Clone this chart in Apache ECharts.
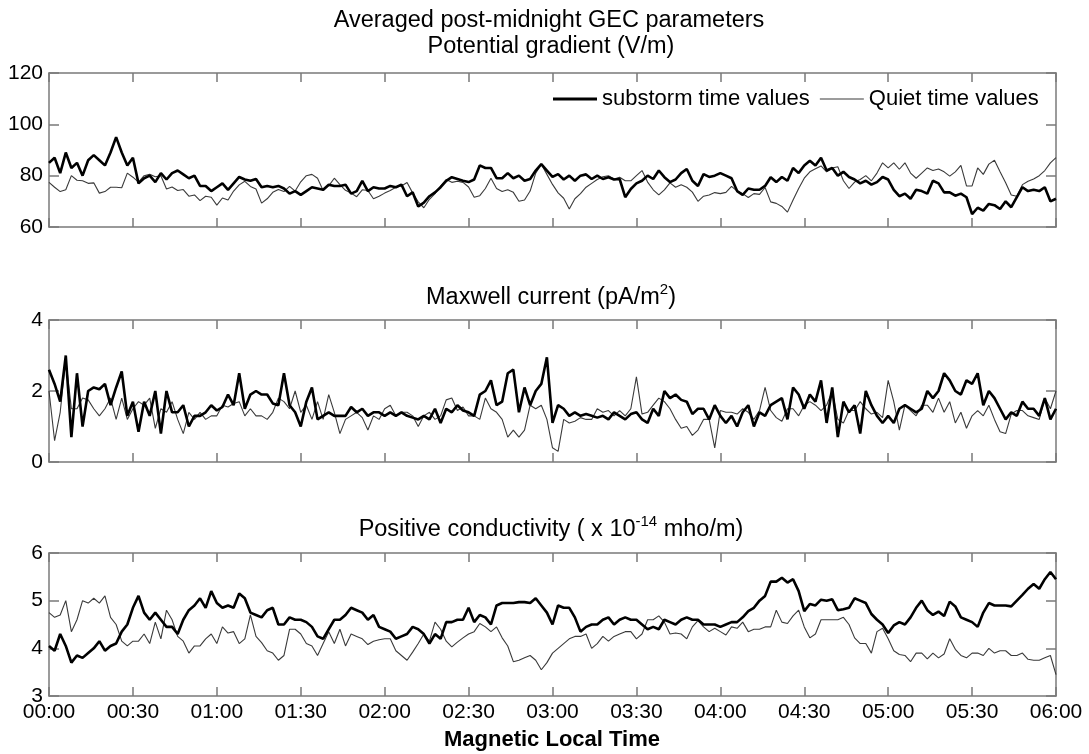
<!DOCTYPE html>
<html><head><meta charset="utf-8">
<script src="https://cdn.jsdelivr.net/npm/echarts@6/dist/echarts.min.js"></script>
<style>html,body{margin:0;padding:0;background:#fff}#c{width:1089px;height:754px}</style>
</head><body><div id="c"></div>
<script>
// x grid: minutes after 00:00 MLT, every 2 minutes
const minutes = Array.from({length: 181}, (_, i) => i * 2);
const timeTicks = ['00:00','00:30','01:00','01:30','02:00','02:30','03:00','03:30','04:00','04:30','05:00','05:30','06:00'];
const seriesNames = ['substorm time values', 'Quiet time values'];

// Potential gradient (V/m)
const pgSubstorm = [
85,87,81,89,83,85,80,86,88,86,
84,89,95,89,84,87,77,79,80,77.5,
81,78.5,81,82,80.5,79,80,76,76,74,
75.5,77,74.5,77,79.5,78.5,78,78.7,75.5,76,
75.5,76,75,73,74,72.5,74,75.5,75,74.5,
76.5,76,76,76.5,73,74,78,74,75.5,75,
75,76,75.5,76.5,72,73.5,68,69.5,72,73.5,
75.5,78,79.4,78.7,78,77.5,78.5,84,83,83,
79,79,81,79,80,78,78.7,82,84.5,82,
79.5,80.6,78.5,80,78,80,80.5,78.7,80,78.7,
79.4,78.5,78.7,71.6,74.8,77,78,80,78.7,82,
79.4,77.5,78.5,81,82.6,78,76,80.6,79.5,80,
81,80,79,74,72.5,75,74.5,74.5,76,79.4,
77.5,79.5,78,83,81,84,85.8,84,87,82,
83,80,81.5,79.5,78.5,77,78,76.5,77.5,79.5,
78.5,74.5,72,73,71,74.5,74,73,78,77,
73.5,73.5,72.2,73,71.6,65,67.5,66.4,69,68.5,
67,70,67.7,71.6,75.5,74,74.5,74,75.5,70,
71];
const pgQuiet = [
77.4,75.5,73.8,74.5,80,78.2,78,77,77.2,73.2,
73.8,75.5,75.5,75.3,81,79.4,77.5,80,80.5,79.6,
80,74.8,75.6,74.2,74.6,72,72.5,70.3,72,71.6,
68.5,71.3,70.5,74,76.4,77.8,75.8,74.8,69.3,71,
73.5,74.6,73.8,75.8,74,77.6,80,80.5,79,74.2,
76,79,76.5,74.3,73.2,71.8,74.5,74.2,71,72,
73.2,74.2,75.5,76,77.3,73.3,69.8,67.5,70.8,73,
75.9,78.5,77.4,77.8,77.4,75.6,71.6,72.2,75,79,
75,73.8,74.5,73.5,70,70.5,74,81,84.5,80.5,
76.6,73.3,71.2,67,71,73,75.5,77,78.5,79.6,
80,78.7,79.4,78,78,80,82,77.5,74.5,72.5,
74.5,77.2,75.5,76.5,75.5,73.6,70,72,72.5,73.4,
73,73.5,75.8,74,73,71.5,73,72.7,75.4,69.8,
69.2,68,65.8,70.5,75,79,81.5,82.7,83.8,81.5,
83,83.5,78,75,77.5,78.5,80,78,81,85,
83,85,82.5,85,81,79,81,83,82,82.6,
81.5,79.8,81.5,84,76,76,83,80.5,84.5,86,
81.5,77.2,72.5,72,76.5,77.8,78.7,80,82,85,
87];

// Maxwell current (pA/m^2)
const mcSubstorm = [
2.6,2.2,1.7,3.0,0.7,2.5,1.0,2.0,2.1,2.05,
2.2,1.6,2.1,2.55,1.3,1.7,0.85,1.7,1.3,2.0,
0.8,2.0,1.4,1.4,1.6,1.0,1.3,1.3,1.4,1.6,
1.45,1.55,1.9,1.6,2.5,1.5,1.9,2.0,1.9,1.9,
1.65,1.6,2.5,1.6,1.4,1.0,1.7,2.1,1.2,1.3,
1.4,1.3,1.3,1.3,1.55,1.4,1.5,1.3,1.4,1.4,
1.3,1.4,1.3,1.4,1.3,1.25,1.2,1.3,1.2,1.5,
1.1,1.5,1.4,1.6,1.45,1.4,1.3,1.9,2.0,2.3,
1.6,1.7,2.5,2.6,1.4,2.1,1.6,2.0,2.2,2.95,
1.1,1.6,1.5,1.3,1.4,1.3,1.35,1.3,1.25,1.3,
1.2,1.4,1.3,1.2,1.35,1.4,1.2,1.1,1.5,1.3,
2.0,1.8,1.9,1.75,1.7,1.35,1.5,1.5,1.2,1.6,
1.3,1.1,1.3,1.0,1.4,1.6,1.0,1.4,1.3,1.6,
1.7,1.8,1.2,2.1,1.9,1.5,1.9,1.7,2.3,1.1,
2.1,0.7,1.7,1.4,1.6,0.8,2.0,1.6,1.3,1.1,
1.3,1.1,1.5,1.6,1.5,1.4,1.5,2.0,1.8,2.0,
2.5,2.3,2.0,1.9,2.3,2.2,2.5,1.6,2.0,1.8,
1.5,1.2,1.4,1.3,1.7,1.5,1.5,1.3,1.8,1.2,
1.5];
const mcQuiet = [
2.0,0.6,1.4,2.9,1.5,1.5,1.8,1.75,1.5,1.3,
1.5,1.8,1.2,1.8,1.2,1.5,1.7,1.6,1.8,0.95,
1.5,1.4,1.7,1.2,0.8,1.4,1.2,1.4,1.2,1.3,
1.3,1.6,1.55,1.65,1.7,1.3,1.5,1.3,1.3,1.2,
1.4,1.8,1.7,1.5,2.0,1.4,1.6,1.2,1.7,1.2,
1.9,1.4,0.8,1.2,1.3,1.4,1.25,0.9,1.3,1.2,
1.5,1.6,1.3,1.4,1.4,1.3,1.0,1.3,1.4,1.2,
1.3,1.75,1.8,1.45,1.55,1.3,1.3,1.2,1.8,1.5,
1.4,1.2,0.7,0.9,0.7,0.9,1.6,1.5,1.6,1.2,
0.4,0.3,1.2,1.1,1.15,1.25,1.2,1.2,1.5,1.4,
1.45,1.3,1.45,1.3,1.5,2.4,1.35,1.4,1.6,1.8,
1.7,1.5,1.2,0.95,1.0,0.75,0.9,1.2,1.2,0.4,
1.45,1.4,1.4,1.35,1.5,1.4,1.2,1.45,2.1,1.45,
1.25,1.15,1.5,1.5,1.3,1.6,1.7,1.6,1.45,1.6,
2.0,1.2,1.1,1.45,1.45,1.7,1.5,1.35,1.4,1.25,
2.3,1.7,0.9,1.6,1.45,1.3,1.6,1.6,1.4,1.8,
1.4,1.7,1.1,1.4,0.95,1.3,1.45,1.3,1.6,1.2,
0.85,0.8,1.35,1.45,1.45,1.3,1.25,1.2,1.8,1.5,
2.0];

// Positive conductivity (x 10^-14 mho/m)
const pcSubstorm = [
4.05,3.95,4.3,4.05,3.7,3.85,3.8,3.9,4.0,4.15,
3.95,4.05,4.1,4.35,4.5,4.85,5.1,4.75,4.6,4.75,
4.6,4.45,4.45,4.3,4.6,4.8,4.9,5.05,4.85,5.2,
4.95,4.85,4.9,4.85,5.15,5.05,4.75,4.7,4.65,4.8,
4.85,4.5,4.5,4.65,4.6,4.6,4.55,4.45,4.25,4.2,
4.4,4.6,4.6,4.7,4.85,4.8,4.75,4.6,4.7,4.45,
4.4,4.35,4.2,4.25,4.3,4.45,4.4,4.3,4.1,4.3,
4.2,4.55,4.55,4.6,4.6,4.85,4.55,4.7,4.65,4.5,
4.9,4.95,4.95,4.95,4.97,4.97,4.95,5.05,4.9,4.75,
4.5,4.9,4.85,4.85,4.65,4.35,4.45,4.5,4.5,4.6,
4.65,4.5,4.6,4.65,4.6,4.6,4.5,4.4,4.45,4.4,
4.6,4.55,4.5,4.6,4.65,4.6,4.6,4.5,4.5,4.5,
4.45,4.5,4.55,4.55,4.65,4.78,4.85,5.0,5.1,5.4,
5.4,5.48,5.38,5.45,5.2,4.78,4.93,4.9,5.02,5.0,
5.03,4.8,4.82,4.85,5.05,5.0,4.95,4.72,4.6,4.5,
4.32,4.48,4.55,4.5,4.65,4.85,5.0,4.8,4.7,4.77,
4.68,4.98,4.88,4.65,4.6,4.55,4.45,4.75,4.95,4.9,
4.9,4.9,4.88,5.0,5.12,5.25,5.35,5.25,5.45,5.6,
5.45];
const pcQuiet = [
4.75,4.65,4.7,5.0,4.35,4.6,5.0,4.95,5.05,4.95,
5.1,4.65,4.5,4.15,4.05,4.15,4.15,4.3,4.1,4.55,
4.2,4.8,4.6,4.25,4.15,3.9,4.05,4.05,4.2,4.3,
4.1,4.45,4.32,4.35,4.1,4.2,4.7,4.25,4.12,3.95,
3.9,3.75,3.85,4.4,4.4,4.3,4.1,4.05,3.85,4.1,
4.35,4.1,4.4,4.05,4.3,4.25,4.2,4.08,4.15,4.18,
4.2,4.2,3.95,3.85,3.75,3.92,4.1,4.3,4.15,4.55,
4.4,4.15,4.03,4.13,4.22,4.3,4.35,4.52,4.45,4.35,
4.45,4.22,4.05,3.72,3.75,3.8,3.85,3.75,3.55,3.7,
3.9,4.0,4.1,4.2,4.25,4.25,4.3,4.0,4.1,4.25,
4.15,4.25,4.3,4.35,4.35,4.2,4.3,4.6,4.6,4.68,
4.55,4.3,4.32,4.3,4.2,4.45,4.58,4.45,4.35,4.42,
4.35,4.28,4.45,4.42,4.55,4.35,4.4,4.4,4.45,4.45,
4.8,4.55,4.52,4.68,4.8,4.45,4.22,4.3,4.6,4.6,
4.6,4.6,4.65,4.5,4.22,4.1,4.1,3.9,4.35,4.42,
4.2,3.95,3.87,3.85,3.72,3.9,3.9,3.78,3.9,3.8,
3.88,4.2,3.98,3.85,3.8,3.9,3.9,3.85,4.0,3.9,
3.95,3.95,3.85,3.85,3.9,3.77,3.75,3.75,3.8,3.85,
3.45];

const yMin = [60, 0, 3];
const yMax = [120, 4, 6];
const yStep = [20, 2, 1];

const FONT = "'Liberation Sans', Arial, Helvetica, sans-serif";
const AX = '#7a7a7a';
const panels = [[pgSubstorm, pgQuiet], [mcSubstorm, mcQuiet], [pcSubstorm, pcQuiet]];
const grids = [
  {left: 49, top: 73, width: 1007, height: 154},
  {left: 49, top: 320, width: 1007, height: 142},
  {left: 49, top: 553, width: 1007, height: 143}
];

const xAxes = [], yAxes = [], series = [];
grids.forEach((g, i) => {
  ['bottom', 'top'].forEach(pos => {
    xAxes.push({
      type: 'value', gridIndex: i, position: pos, min: 0, max: 360, interval: 30,
      axisLine: {show: true, onZero: false, lineStyle: {color: AX, width: 1.5}},
      axisTick: {show: true, inside: true, length: 9, lineStyle: {color: AX, width: 1.5}},
      axisLabel: {show: i === 2 && pos === 'bottom', margin: 6, color: '#000', fontSize: 21, fontFamily: FONT,
        formatter: v => timeTicks[Math.round(v / 30)]},
      splitLine: {show: false}
    });
  });
  ['left', 'right'].forEach(pos => {
    yAxes.push({
      type: 'value', gridIndex: i, position: pos, min: yMin[i], max: yMax[i], interval: yStep[i],
      axisLine: {show: true, onZero: false, lineStyle: {color: AX, width: 1.5}},
      axisTick: {show: true, inside: true, length: 10, lineStyle: {color: AX, width: 1.5}},
      axisLabel: {show: pos === 'left', margin: 6, color: '#000', fontSize: 21, fontFamily: FONT},
      splitLine: {show: false}
    });
  });
  const [sub, quiet] = panels[i];
  series.push({
    type: 'line', name: seriesNames[1], xAxisIndex: 2 * i, yAxisIndex: 2 * i,
    data: minutes.map((m, k) => [m, quiet[k]]), symbol: 'none', showSymbol: false,
    lineStyle: {color: '#3a3a3a', width: 1.1}, itemStyle: {color: '#3a3a3a'}, z: 2, animation: false
  });
  series.push({
    type: 'line', name: seriesNames[0], xAxisIndex: 2 * i, yAxisIndex: 2 * i,
    data: minutes.map((m, k) => [m, sub[k]]), symbol: 'none', showSymbol: false,
    lineStyle: {color: '#000', width: 2.6}, itemStyle: {color: '#000'}, z: 3, animation: false
  });
});

const chart = echarts.init(document.getElementById('c'), null, {renderer: 'canvas'});
chart.setOption({
  animation: false,
  backgroundColor: '#fff',
  grid: grids,
  xAxis: xAxes,
  yAxis: yAxes,
  series: series,
  legend: {
    data: [
      {name: seriesNames[0], icon: 'path://M0 0H44V3H0Z', itemStyle: {color: '#000'}},
      {name: seriesNames[1], icon: 'path://M0 0H44V1.1H0Z', itemStyle: {color: '#3a3a3a'}}
    ],
    left: 553, top: 88, padding: 0, itemWidth: 44, itemHeight: 14, itemGap: 10, symbolKeepAspect: true,
    selectedMode: false, textStyle: {fontSize: 22, color: '#000', fontFamily: FONT}
  },
  graphic: [
    {type: 'text', x: 549, y: 21, style: {text: 'Averaged post-midnight GEC parameters', align: 'center', verticalAlign: 'middle', fontSize: 23.5, fontFamily: FONT, fill: '#000'}},
    {type: 'text', x: 551, y: 47, style: {text: 'Potential gradient (V/m)', align: 'center', verticalAlign: 'middle', fontSize: 23.5, fontFamily: FONT, fill: '#000'}},
    {type: 'text', x: 551, y: 296, style: {text: '{n|Maxwell current (pA/m}{s|2}{n|)}', align: 'center', verticalAlign: 'middle',
      rich: {n: {fontSize: 23.5, fontFamily: FONT, fill: '#000', lineHeight: 28, verticalAlign: 'bottom'},
             s: {fontSize: 15, fontFamily: FONT, fill: '#000', lineHeight: 28, verticalAlign: 'top', padding: [0, 0, 12, 0]}}}},
    {type: 'text', x: 551, y: 528, style: {text: '{n|Positive conductivity ( x 10}{s|-14}{n| mho/m)}', align: 'center', verticalAlign: 'middle',
      rich: {n: {fontSize: 23.5, fontFamily: FONT, fill: '#000', lineHeight: 28, verticalAlign: 'bottom'},
             s: {fontSize: 15, fontFamily: FONT, fill: '#000', lineHeight: 28, verticalAlign: 'top', padding: [0, 0, 12, 0]}}}},
    {type: 'text', x: 552, y: 740, style: {text: 'Magnetic Local Time', align: 'center', verticalAlign: 'middle', fontSize: 22, fontWeight: 'bold', fontFamily: FONT, fill: '#000'}}
  ]
});
</script>
</body></html>
